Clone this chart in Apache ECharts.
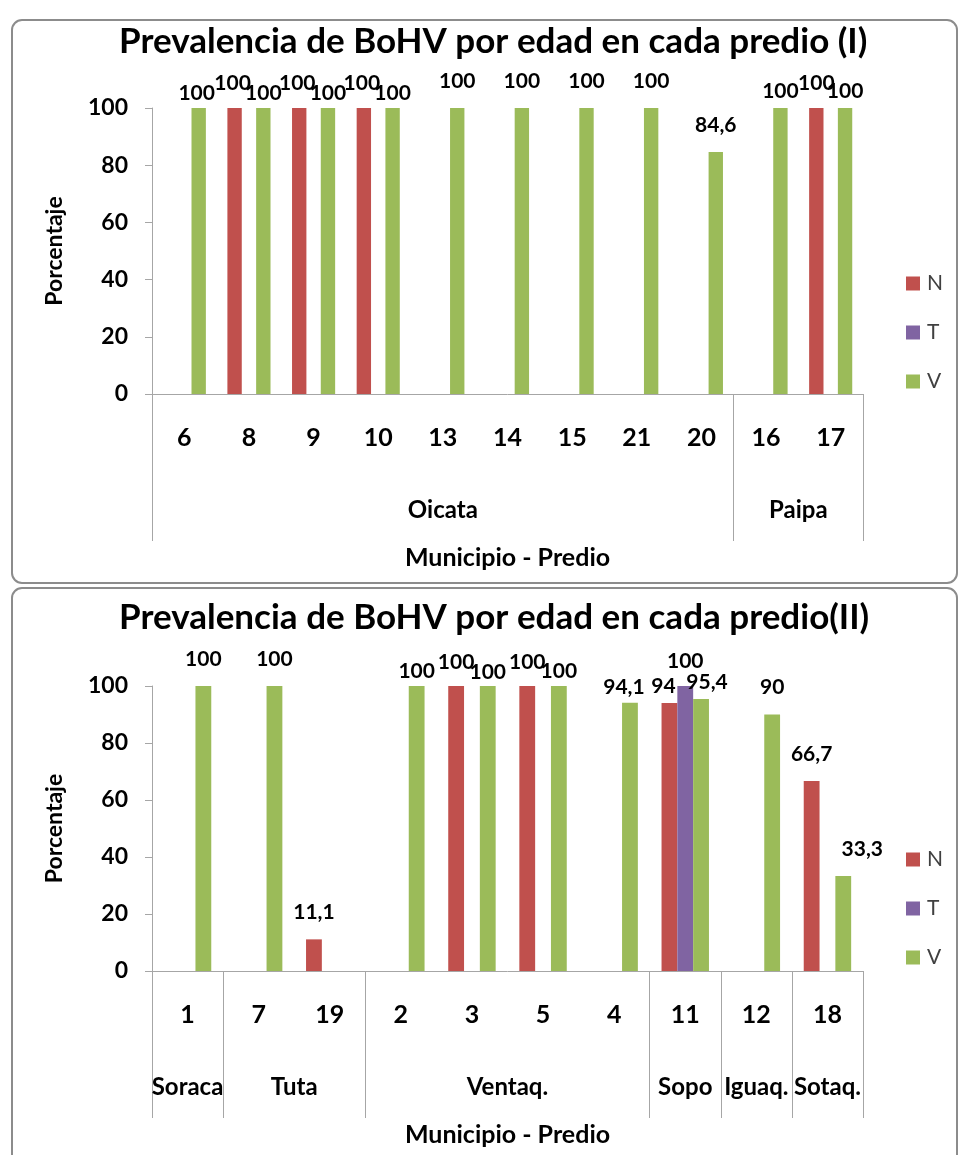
<!DOCTYPE html>
<html>
<head>
<meta charset="utf-8">
<script src="https://cdn.jsdelivr.net/npm/echarts@6/dist/echarts.min.js"></script>
<style>
  html, body { margin: 0; padding: 0; background: #ffffff; }
  #chart { width: 960px; height: 1155px; }
</style>
</head>
<body>
<div id="chart"></div>
<script>
// ---- Panel I: Oicata and Paipa ----
const predios1 = ['6', '8', '9', '10', '13', '14', '15', '21', '20', '16', '17'];
const municipios1 = ['Oicata', 'Paipa'];
const municipioSizes1 = [9, 2];
const valuesN1 = [null, 100, 100, 100, null, null, null, null, null, null, 100];
const valuesT1 = [null, null, null, null, null, null, null, null, null, null, null];
const valuesV1 = [100, 100, 100, 100, 100, 100, 100, 100, 84.6, 100, 100];

// ---- Panel II: Soraca, Tuta, Ventaquemada, Sopo, Iguaque, Sotaquirá ----
const predios2 = ['1', '7', '19', '2', '3', '5', '4', '11', '12', '18'];
const municipios2 = ['Soraca', 'Tuta', 'Ventaq.', 'Sopo', 'Iguaq.', 'Sotaq.'];
const municipioSizes2 = [1, 2, 4, 1, 1, 1];
const valuesN2 = [null, null, 11.1, null, 100, 100, null, 94, null, 66.7];
const valuesT2 = [null, null, null, null, null, null, null, 100, null, null];
const valuesV2 = [100, 100, null, 100, 100, 100, 94.1, 95.4, 90, 33.3];

// Y axis ticks (percent)
const yTicks = [0, 20, 40, 60, 80, 100];

const seriesNames = ['N', 'T', 'V'];
const seriesColors = ['#c0504d', '#8064a2', '#9bbb59'];
const FONT = 'Lato';
const AXIS_GRAY = '#a6a6a6';

// Label nudges [dx, dy] so crowded value labels do not collide
const labelNudges1 = {
  N: { 1: [-2, 2], 2: [-2, 2], 3: [-2, 2], 10: [0, 2] },
  T: {},
  V: { 0: [-2, 12], 1: [0, 12], 2: [0, 12], 3: [0, 12], 9: [0, 10], 10: [0, 10] }
};
const labelNudges2 = {
  N: { 4: [0, 3], 5: [0, 3], 7: [-6, 10] },
  T: { 7: [0, 2] },
  V: { 3: [0, 12], 4: [0, 13], 5: [0, 12], 6: [-6, 11], 7: [6, 10], 9: [19, 0] }
};

const grids = [
  { left: 152, top: 108, width: 711, height: 286 },
  { left: 152, top: 686, width: 711, height: 285 }
];

function groupLayout(sizes) {
  const bounds = [0];
  const centers = [];
  let acc = 0;
  sizes.forEach(s => { centers.push(acc + s / 2); acc += s; bounds.push(acc); });
  return { bounds, centers };
}

function fmtValue(v) {
  return String(v).replace('.', ',');
}

function buildPanel(p, predios, municipios, sizes, values, nudges) {
  const layout = groupLayout(sizes);
  const xAxes = [
    {
      type: 'category', gridIndex: p, data: predios, position: 'bottom',
      axisLine: { show: true, lineStyle: { color: AXIS_GRAY, width: 1 } },
      axisTick: { show: false },
      axisLabel: { margin: 31, fontFamily: FONT, fontWeight: 'bold', fontSize: 25, color: '#000' }
    },
    {
      type: 'value', gridIndex: p, min: 0, max: predios.length, position: 'bottom',
      axisLine: { show: false },
      splitLine: { show: false },
      axisTick: { show: true, customValues: layout.bounds, length: 147, lineStyle: { color: AXIS_GRAY } },
      axisLabel: {
        customValues: layout.centers, margin: 104,
        fontFamily: FONT, fontWeight: 'bold', fontSize: 24, color: '#000',
        formatter: v => municipios[layout.centers.indexOf(v)] || ''
      },
      name: 'Municipio - Predio', nameLocation: 'middle', nameGap: 151,
      nameTextStyle: { fontFamily: FONT, fontWeight: 'bold', fontSize: 25, color: '#000' }
    }
  ];
  const yAxis = {
    type: 'value', gridIndex: p,
    min: yTicks[0], max: yTicks[yTicks.length - 1], interval: yTicks[1] - yTicks[0],
    axisLine: { show: true, lineStyle: { color: AXIS_GRAY } },
    axisTick: { show: true, length: 7, lineStyle: { color: AXIS_GRAY } },
    splitLine: { show: false },
    axisLabel: { margin: 24, fontFamily: FONT, fontWeight: 'bold', fontSize: 23, color: '#000' },
    name: 'Porcentaje', nameLocation: 'middle', nameGap: 86, nameRotate: 90,
    nameTextStyle: { fontFamily: FONT, fontWeight: 'bold', fontSize: 23, color: '#000' }
  };
  const series = seriesNames.map((name, k) => ({
    type: 'bar', name,
    xAxisIndex: p * 2, yAxisIndex: p,
    barGap: 0, barCategoryGap: '33.3%',
    itemStyle: { color: seriesColors[k] },
    label: {
      show: true, position: 'top', distance: 16,
      fontFamily: FONT, fontWeight: 'bold', fontSize: 21, lineHeight: 22, color: '#000',
      formatter: prm => fmtValue(prm.value)
    },
    data: values[k].map((v, i) => {
      const n = nudges[name][i];
      return n && v != null ? { value: v, label: { offset: n } } : v;
    })
  }));
  return { xAxes, yAxis, series };
}

const panel1 = buildPanel(0, predios1, municipios1, municipioSizes1,
  [valuesN1, valuesT1, valuesV1], labelNudges1);
const panel2 = buildPanel(1, predios2, municipios2, municipioSizes2,
  [valuesN2, valuesT2, valuesV2], labelNudges2);

const titleStyle = { fontFamily: FONT, fontWeight: 'bold', fontSize: 35, color: '#000' };
const legendBase = {
  orient: 'vertical', left: 901, itemWidth: 14, itemHeight: 14, itemGap: 28,
  icon: 'rect', data: seriesNames,
  textStyle: { fontFamily: FONT, fontSize: 21, color: '#404040', padding: [0, 0, 0, 2] }
};

const option = {
  animation: false,
  backgroundColor: '#ffffff',
  title: [
    { text: 'Prevalencia de BoHV por edad en cada predio (I)', left: 119, top: 24, padding: 0, textStyle: titleStyle },
    { text: 'Prevalencia de BoHV por edad en cada predio(II)', left: 119, top: 600, padding: 0, textStyle: titleStyle }
  ],
  legend: [
    Object.assign({}, legendBase, { top: 268 }),
    Object.assign({}, legendBase, { top: 844 })
  ],
  grid: grids,
  xAxis: panel1.xAxes.concat(panel2.xAxes),
  yAxis: [panel1.yAxis, panel2.yAxis],
  series: panel1.series.concat(panel2.series),
  graphic: [
    { type: 'rect', silent: true, z: -10, shape: { x: 12, y: 20, width: 945, height: 563, r: 10 },
      style: { fill: 'none', stroke: '#8c8c8c', lineWidth: 2 } },
    { type: 'rect', silent: true, z: -10, shape: { x: 12, y: 588, width: 945, height: 600, r: 10 },
      style: { fill: 'none', stroke: '#8c8c8c', lineWidth: 2 } }
  ]
};

const chart = echarts.init(document.getElementById('chart'), null, { renderer: 'canvas' });
chart.setOption(option);
</script>
</body>
</html>
